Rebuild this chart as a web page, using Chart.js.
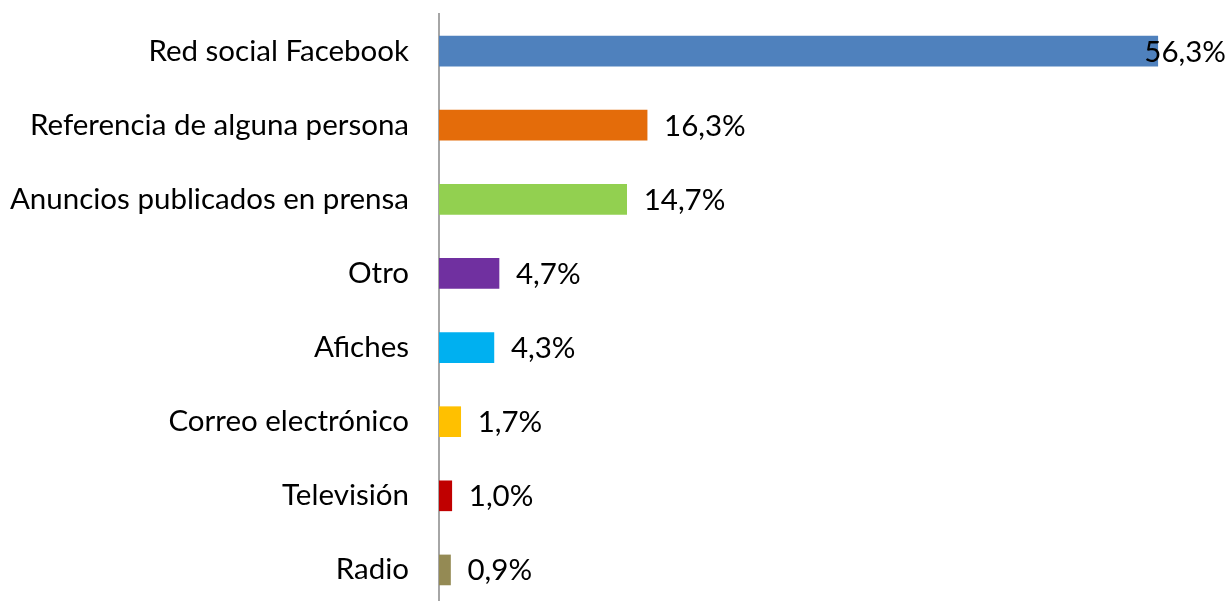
<!DOCTYPE html>
<html><head><meta charset="utf-8">
<script src="https://cdn.jsdelivr.net/npm/chart.js@4"></script>
<style>html,body{margin:0;padding:0;background:#fff;overflow:hidden;}canvas{display:block;}</style>
</head><body><canvas id="c" width="1229" height="607" style="width:1229px;height:607px"></canvas>
<script>
const categories = ["Red social Facebook","Referencia de alguna persona","Anuncios publicados en prensa","Otro","Afiches","Correo electrónico","Televisión","Radio"];
const values = [56.3,16.3,14.7,4.7,4.3,1.7,1.0,0.9];
const valueLabels = ["56,3%","16,3%","14,7%","4,7%","4,3%","1,7%","1,0%","0,9%"];
const barColors = ["#4f81bd","#e46c0a","#92d050","#7030a0","#00b0f0","#ffc000","#c00000","#948a54"];
const FONT = 'Lato, "Open Sans", sans-serif';
const FS = 29.5;

const labelPlugin = {
  id:'vlabels',
  afterDatasetsDraw(chart){
    const ctx = chart.ctx;
    const meta = chart.getDatasetMeta(0);
    ctx.save();
    ctx.font = FS + 'px ' + FONT;
    ctx.fillStyle = '#000';
    ctx.textBaseline = 'middle';
    ctx.textAlign = 'left';
    meta.data.forEach((bar,i)=>{
      const t = valueLabels[i];
      const w = ctx.measureText(t).width;
      let x = bar.x + 17;
      if (x + w > chart.width - 3) x = chart.width - 3 - w;
      ctx.fillText(t, x, bar.y + 1);
    });
    ctx.restore();
  }
};

new Chart(document.getElementById('c'), {
  type:'bar',
  data:{labels:categories, datasets:[{data:values, backgroundColor:barColors, barThickness:30, borderWidth:0}]},
  options:{
    indexAxis:'y', responsive:false, maintainAspectRatio:false, animation:false, devicePixelRatio:1,
    layout:{padding:{top:14,bottom:0,right:24,left:0}},
    plugins:{legend:{display:false}, tooltip:{enabled:false}},
    scales:{
      x:{display:false, min:0, max:60},
      y:{
        grid:{display:false, drawTicks:false},
        border:{display:true, color:'#a6a6a6', width:2},
        ticks:{color:'#000', font:{family:FONT, size:FS}, padding:30},
        afterFit(s){ s.paddingTop = 0; s.paddingBottom = 0; s.width = 439; }
      }
    }
  },
  plugins:[labelPlugin]
});
</script></body></html>
